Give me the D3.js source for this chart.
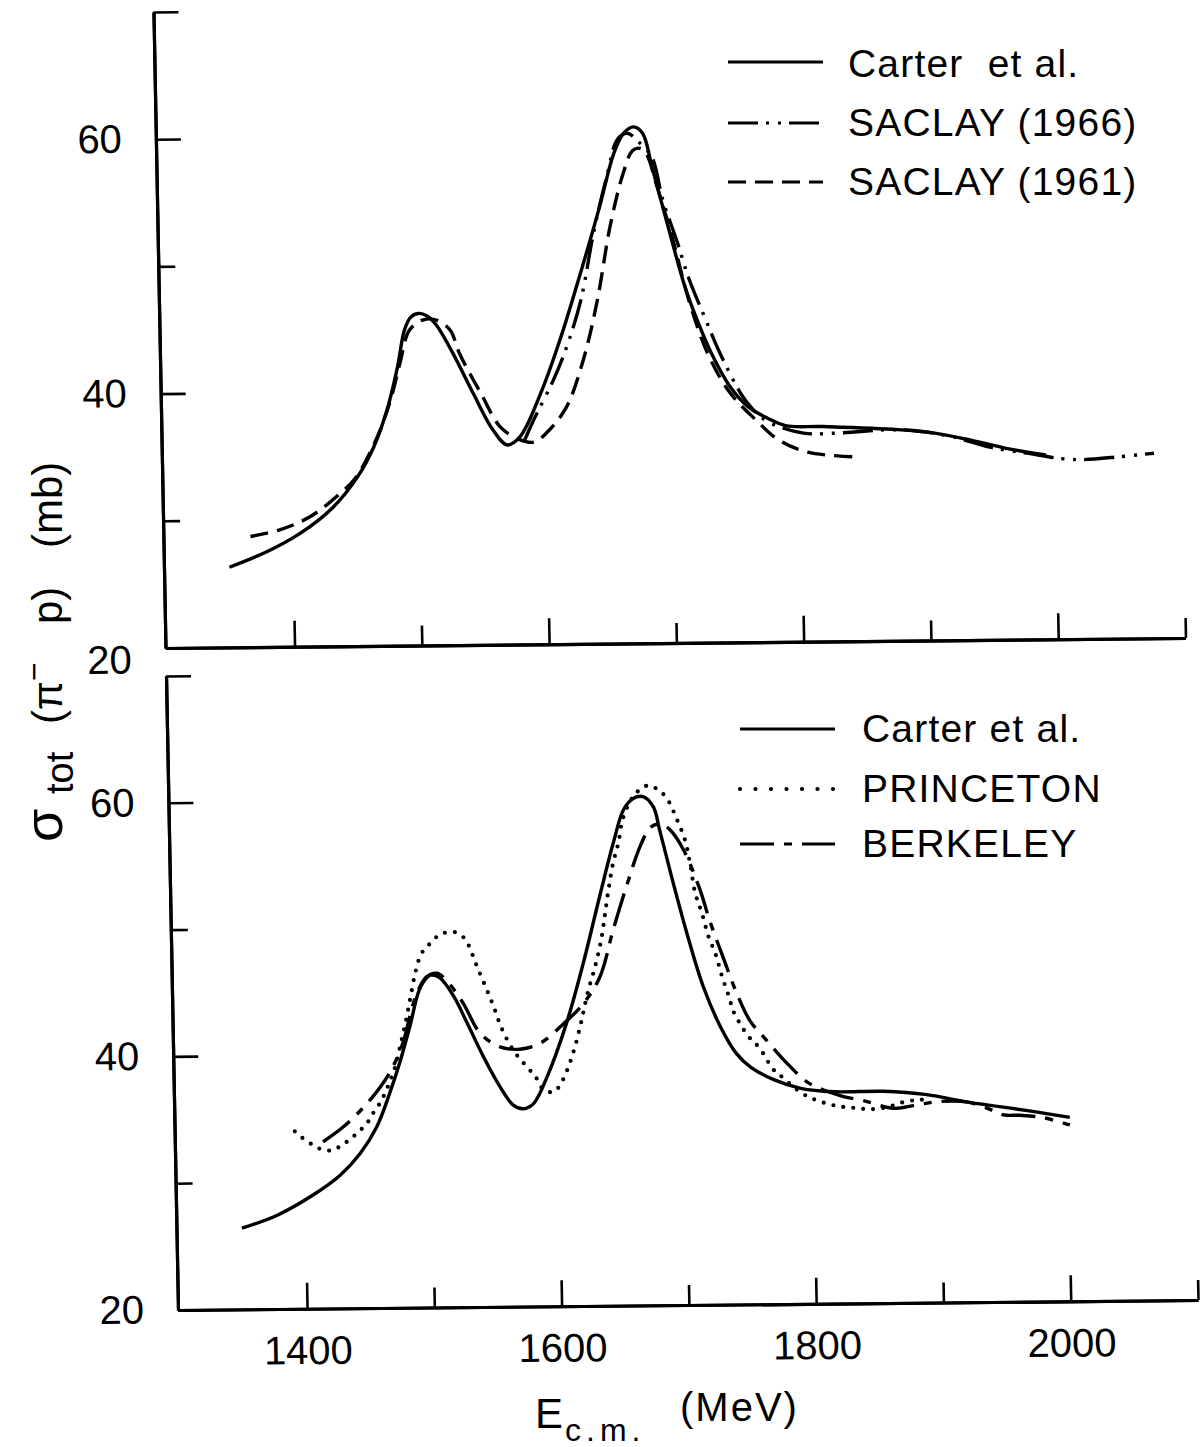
<!DOCTYPE html>
<head>
  <meta charset="utf-8">
  <script src="https://d3js.org/d3.v7.min.js"></script>
  <style>
    body { margin:0; background:#fff; }
    text { font-family: "Liberation Sans", Arial, sans-serif; fill:#000; }
  </style>
</head>
<body>
<script>
var width = 1204, height = 1447;

// axis ticks
var xMajor = [1400, 1600, 1800, 2000];
var xMinor = [1500, 1700, 1900, 2100];
var yMajor = [20, 40, 60, 70];
var yMinor = [30, 50];

// top panel  [E_cm (MeV), sigma_tot (mb)]
var carterTop = [[1350,26.3],[1380,27.5],[1406,28.9],[1432,30.9],[1452,33.3],[1465,35.6],[1476,38.5],[1485,41.9],
  [1491,44.8],[1496,45.8],[1502,46.1],[1509,45.9],[1516,45.2],[1529,42.9],[1544,39.8],[1559,36.9],[1570,35.7],[1580,36.3],
  [1597,39.7],[1613,43.9],[1630,49.1],[1646,54.3],[1658,58.5],[1666,60.1],[1674,60.6],[1681,60.1],[1688,57.4],
  [1699,53.0],[1712,48.0],[1721,45.4],[1732,42.7],[1746,40.1],[1760,38.5],[1775,37.6],[1789,37.0],[1818,36.9],
  [1877,36.6],[1906,36.3],[1935,35.7],[1964,35.0],[1993,34.5]];
var saclay66 = [[1584,36.1],[1591,37.6],[1607,40.7],[1618,43.3],[1630,47.0],[1641,52.3],[1653,57.0],[1661,59.6],
  [1669,60.1],[1679,59.3],[1688,58.2],[1696,54.8],[1707,51.4],[1715,48.7],[1727,45.6],[1741,42.2],[1758,39.0],
  [1774,37.4],[1803,36.4],[1833,36.4],[1871,36.6],[1891,36.5],[1920,36.0],[1949,35.15],[1978,34.65],[2005,34.2],
  [2022,34.1],[2051,34.3],[2078,34.55]];
var saclay61 = [[1367,28.7],[1390,29.2],[1414,30.2],[1438,32.0],[1451,33.3],[1468,36.4],[1479,39.3],[1487,42.2],
  [1495,44.8],[1506,45.6],[1517,45.55],[1527,44.75],[1534,42.9],[1550,39.8],[1565,37.1],[1580,36.1],[1591,35.9],
  [1601,36.6],[1617,38.6],[1631,42.3],[1643,47.0],[1654,52.75],[1665,56.9],[1673,58.75],[1679,58.9],[1684,58.4],
  [1691,56.1],[1702,52.2],[1715,46.9],[1729,42.7],[1746,39.6],[1766,37.45],[1783,35.9],[1806,34.9],[1841,34.5]];

// bottom panel
var carterBot = [[1350,26.4],[1378,27.4],[1407,29.0],[1428,30.5],[1444,32.2],[1457.5,34.3],[1468,36.9],[1477,39.5],
  [1485,42.2],[1494,45.3],[1502,46.2],[1509,46.0],[1520,44.5],[1530,42.4],[1542,39.8],[1554,37.5],[1565,35.9],
  [1573,35.6],[1581,36.0],[1592,38.1],[1608,42.3],[1622,47.0],[1636,52.3],[1647.5,56.5],[1656,59.1],[1664,60.0],
  [1672,60.1],[1679.5,59.3],[1684,57.5],[1692,54.1],[1704,49.3],[1716,45.1],[1729,41.9],[1741,39.8],[1752,38.7],
  [1770,37.7],[1791,37.0],[1817,36.7],[1856,36.7],[1890,36.4],[1921,35.8],[1947,35.4],[1973,35.0],[2002,34.5]];
var princeton = [[1393,34.0],[1401,33.3],[1409,32.8],[1415,32.5],[1423,32.5],[1430,32.9],[1436,33.3],[1443,33.9],
  [1450,34.6],[1455,35.4],[1460,36.1],[1465,37.05],[1469,38.0],[1473,39.05],[1477,40.6],[1481,42.2],[1485.5,44.3],
  [1490,46.4],[1495,47.9],[1502,48.7],[1510,49.4],[1521,49.6],[1528,49.2],[1532,48.6],[1538,47.0],[1545,45.25],
  [1551,43.7],[1557,41.96],[1566,40.2],[1575,39.05],[1583,38.1],[1589,37.1],[1597,36.9],[1603.5,37.7],[1609,38.9],
  [1614.5,40.5],[1620,42.55],[1625,44.65],[1632,47.0],[1637,49.1],[1640,50.95],[1643,52.8],[1647,54.9],
  [1651.5,56.5],[1655,58.3],[1661,59.7],[1667,60.5],[1676,61.0],[1684,60.6],[1690,60.0],[1698,58.25],[1704,56.6],
  [1707.5,54.8],[1711,52.5],[1716,50.9],[1721,49.0],[1726,47.7],[1731,45.85],[1736,44.3],[1739,43.2],[1744,42.2],
  [1751,41.1],[1756,40.6],[1762,39.8],[1769,38.6],[1775,38.05],[1792,36.6],[1802,36.1],[1814,35.7],[1824,35.5],
  [1835,35.4],[1844,35.3],[1856,35.4],[1864,35.6],[1874,35.9],[1885,36.0],[1892.5,36.1]];
var berkeley = [[1415,33.15],[1431,34.3],[1447,35.8],[1461,37.45],[1471,39.0],[1480,41.1],[1485,42.95],[1491,44.8],
  [1499,46.1],[1507,46.35],[1515,45.7],[1527,44.0],[1540,41.6],[1555.5,40.5],[1571,40.3],[1587,40.75],[1606,42.3],
  [1622,43.9],[1635,45.95],[1646,49.6],[1657,53.0],[1668.5,56.2],[1677,57.7],[1685,57.95],[1692,57.5],[1702.5,55.9],
  [1715,52.7],[1722,50.3],[1732,47.4],[1742,44.6],[1752,42.4],[1765,40.8],[1780.5,39.0],[1796,37.5],[1809,36.85],
  [1822,36.4],[1843,35.9],[1863.5,35.35],[1882,35.6],[1900,35.85],[1921,35.8],[1937,35.3],[1950,34.75],[1963,34.7],
  [1981,34.5],[2002,33.9]];

var topLegend = ["Carter  et al.", "SACLAY (1966)", "SACLAY (1961)"];
var botLegend = ["Carter et al.", "PRINCETON", "BERKELEY"];

var dashes = { solid: null, dashdotdot: "30 8 3 9 3 8", dashed: "18 9", dotted: "0 10", dashdot: "34 10 8 10" };

var svg = d3.select("body").append("svg")
  .attr("width", width).attr("height", height);

// the scanned figure is slightly skewed
var g = svg.append("g")
  .attr("transform", "matrix(1,-0.0098,0.0189,1,-24.76,1.744)");

var x = d3.scaleLinear().domain([1298.6, 2100]).range([178, 1198]);
var yTop = d3.scaleLinear().domain([20, 70]).range([648, 12]);
var yBot = d3.scaleLinear().domain([20, 70]).range([1310, 676]);

function panel(y, labels, series) {
  var base = y.range()[0];
  var fmt = labels ? d3.format("d") : function() { return ""; };

  var xa = g.append("g").attr("transform", "translate(0," + base + ")")
    .call(d3.axisBottom(x).tickValues(xMajor).tickSize(-26).tickSizeOuter(0).tickPadding(27).tickFormat(fmt));
  var xb = g.append("g").attr("transform", "translate(0," + base + ")")
    .call(d3.axisBottom(x).tickValues(xMinor).tickSize(-20).tickSizeOuter(0).tickFormat(function() { return ""; }));
  var ya = g.append("g").attr("transform", "translate(178,0)")
    .call(d3.axisLeft(y).tickValues(yMajor).tickSize(-25).tickSizeOuter(0).tickPadding(34)
      .tickFormat(function(d) { return d == 70 ? "" : d; }));
  var yb = g.append("g").attr("transform", "translate(178,0)")
    .call(d3.axisLeft(y).tickValues(yMinor).tickSize(-17).tickSizeOuter(0).tickFormat(function() { return ""; }));

  // the "20" of the upper panel sits a little below its axis
  if (!labels) ya.selectAll(".tick text").filter(function(d) { return d == 20; }).attr("dy", "0.62em");

  [xa, xb, ya, yb].forEach(function(a) {
    a.attr("font-size", 40).attr("font-family", null);
    a.selectAll("path").attr("stroke-width", 3.2);
    a.selectAll("line").attr("stroke-width", 2.6);
  });

  var line = d3.line()
    .x(function(d) { return x(d[0]); })
    .y(function(d) { return y(d[1]); })
    .curve(d3.curveCatmullRom.alpha(0.5));

  series.forEach(function(s) {
    g.append("path")
      .datum(s.data)
      .attr("d", line)
      .attr("fill", "none")
      .attr("stroke", "#000")
      .attr("stroke-width", s.style == "dotted" ? 4.2 : 3.4)
      .attr("stroke-linecap", s.style == "dotted" ? "round" : "butt")
      .attr("stroke-dasharray", dashes[s.style]);
  });
}

panel(yTop, false, [
  { data: carterTop, style: "solid" },
  { data: saclay66, style: "dashdotdot" },
  { data: saclay61, style: "dashed" }
]);
panel(yBot, true, [
  { data: carterBot, style: "solid" },
  { data: princeton, style: "dotted" },
  { data: berkeley, style: "dashdot" }
]);

// legends
function legend(names, styles, x0, x1, tx, lineY, textY) {
  names.forEach(function(n, i) {
    var dotted = styles[i] == "dotted";
    svg.append("line")
      .attr("x1", x0).attr("x2", x1).attr("y1", lineY[i]).attr("y2", lineY[i])
      .attr("stroke", "#000")
      .attr("stroke-width", dotted ? 4.2 : 3)
      .attr("stroke-linecap", dotted ? "round" : "butt")
      .attr("stroke-dasharray", dotted ? "0 15.5" : dashes[styles[i]]);
    svg.append("text")
      .attr("x", tx).attr("y", textY[i])
      .attr("font-size", 39)
      .attr("letter-spacing", 1.2)
      .attr("xml:space", "preserve")
      .text(n);
  });
}
legend(topLegend, ["solid", "dashdotdot", "dashed"], 728, 823, 848, [62, 123, 182], [77, 136, 195]);
legend(botLegend, ["solid", "dotted", "dashdot"], 740, 835, 862, [729, 789, 844], [742, 802, 857]);

// y title
var yt = svg.append("text")
  .attr("transform", "translate(62,842) rotate(-90)")
  .attr("font-size", 42);
yt.append("tspan").attr("x", 0).attr("font-size", 54).text("σ");
yt.append("tspan").attr("x", 48).attr("dy", 11).attr("font-size", 38).text("tot");
yt.append("tspan").attr("x", 118).attr("dy", -11).text("(π");
yt.append("tspan").attr("dy", -17).attr("font-size", 32).text("−");
yt.append("tspan").attr("x", 218).attr("dy", 17).text("p)");
yt.append("tspan").attr("x", 294).text("(mb)");

// x title
svg.append("text").attr("x", 535).attr("y", 1428).attr("font-size", 42).text("E");
svg.append("text").attr("x", 565).attr("y", 1441).attr("font-size", 32).attr("letter-spacing", 5).text("c.m.");
svg.append("text").attr("x", 680).attr("y", 1421).attr("font-size", 40).attr("letter-spacing", 2).text("(MeV)");
</script>
</body>
